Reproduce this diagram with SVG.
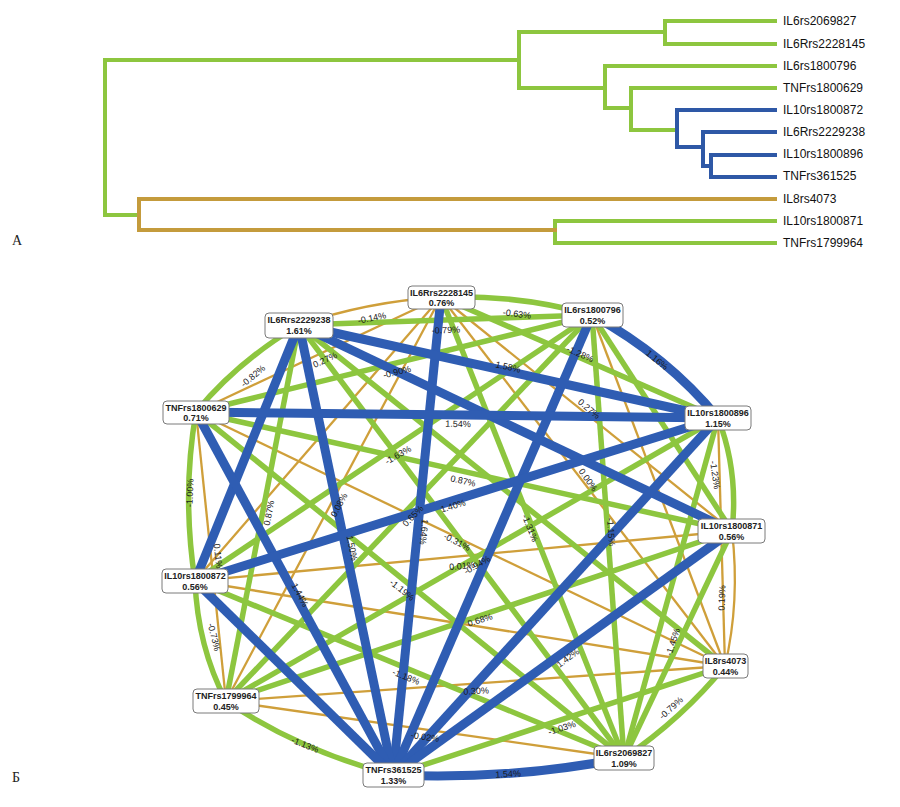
<svg xmlns="http://www.w3.org/2000/svg" width="900" height="807" viewBox="0 0 900 807">
<defs>
<style>
.dg{stroke:#8dc63f;stroke-width:4;fill:none;stroke-linecap:square}
.db{stroke:#2e58a6;stroke-width:4;fill:none;stroke-linecap:square}
.dy{stroke:#c49b3c;stroke-width:4;fill:none;stroke-linecap:square}
.leaf{font-family:"Liberation Sans",Arial,sans-serif;font-size:12px;fill:#111}
.panel{font-family:"Liberation Serif","Times New Roman",serif;font-size:14px;fill:#222}
.o{stroke:#cf9f3a;stroke-width:2.3;fill:none}
.g{stroke:#8dc63f;stroke-width:5.5;fill:none}
.b{stroke:#2f5db3;stroke-width:9;fill:none}
.el{font-family:"Liberation Sans",Arial,sans-serif;font-size:9px;fill:#1a1a1a;text-anchor:middle;dominant-baseline:central}
.box{fill:#fff;stroke:#7a7a7a;stroke-width:1}
.nt{font-family:"Liberation Sans",Arial,sans-serif;font-size:9px;font-weight:bold;fill:#222;text-anchor:middle}
</style>
</defs>
<rect width="900" height="807" fill="#fff"/>

<g id="dendrogram">
<path class="dg" d="M105,60 V215 M105,60 H519 M519,32 V88 M519,32 H665 M665,21 V44 M665,21 H775 M665,44 H775 M519,88 H605 M605,66 V108 M605,66 H775 M605,108 H631 M631,88 V130 M631,88 H775 M631,130 H677 M105,215 H139 M555,221 V243 M555,221 H775 M555,243 H775"/>
<path class="db" d="M677,110 V147 M677,110 H775 M677,147 H703 M703,132 V166 M703,132 H775 M703,166 H711 M711,155 V177 M711,155 H775 M711,177 H775"/>
<path class="dy" d="M139,199 V230 M139,199 H775 M139,230 H555"/>
<text class="leaf" x="783" y="25">IL6rs2069827</text>
<text class="leaf" x="783" y="48">IL6Rrs2228145</text>
<text class="leaf" x="783" y="70">IL6rs1800796</text>
<text class="leaf" x="783" y="92">TNFrs1800629</text>
<text class="leaf" x="783" y="114">IL10rs1800872</text>
<text class="leaf" x="783" y="136">IL6Rrs2229238</text>
<text class="leaf" x="783" y="158">IL10rs1800896</text>
<text class="leaf" x="783" y="180">TNFrs361525</text>
<text class="leaf" x="783" y="203">IL8rs4073</text>
<text class="leaf" x="783" y="225">IL10rs1800871</text>
<text class="leaf" x="783" y="247">TNFrs1799964</text>
<text class="panel" x="12" y="245">А</text>
</g>

<text class="panel" x="12" y="782">Б</text>

<g id="connectors">
<g id="orange-edges">
<line class="o" x1="441" y1="297" x2="196" y2="412"/>
<line class="o" x1="441" y1="297" x2="732" y2="531"/>
<line class="o" x1="441" y1="297" x2="195" y2="581"/>
<line class="o" x1="441" y1="297" x2="725" y2="666"/>
<line class="o" x1="441" y1="297" x2="226" y2="701"/>
<line class="o" x1="592" y1="315" x2="725" y2="666"/>
<line class="o" x1="196" y1="412" x2="725" y2="666"/>
<line class="o" x1="196" y1="412" x2="226" y2="701"/>
<line class="o" x1="718" y1="418" x2="725" y2="666"/>
<line class="o" x1="732" y1="531" x2="195" y2="581"/>
<line class="o" x1="195" y1="581" x2="725" y2="666"/>
<line class="o" x1="725" y1="666" x2="226" y2="701"/>
<line class="o" x1="226" y1="701" x2="624" y2="758"/>
<path class="o" d="M299,325 Q366.4,301.7 441,297"/>
<path class="o" d="M732,531 Q740.2,601.2 725,666"/>
</g>
<g id="green-edges">
<line class="g" x1="441" y1="297" x2="718" y2="418"/>
<line class="g" x1="441" y1="297" x2="624" y2="758"/>
<line class="g" x1="592" y1="315" x2="299" y2="325"/>
<line class="g" x1="592" y1="315" x2="196" y2="412"/>
<line class="g" x1="592" y1="315" x2="732" y2="531"/>
<line class="g" x1="592" y1="315" x2="195" y2="581"/>
<line class="g" x1="592" y1="315" x2="226" y2="701"/>
<line class="g" x1="592" y1="315" x2="624" y2="758"/>
<line class="g" x1="299" y1="325" x2="725" y2="666"/>
<line class="g" x1="299" y1="325" x2="226" y2="701"/>
<line class="g" x1="299" y1="325" x2="624" y2="758"/>
<line class="g" x1="196" y1="412" x2="732" y2="531"/>
<line class="g" x1="196" y1="412" x2="624" y2="758"/>
<line class="g" x1="718" y1="418" x2="226" y2="701"/>
<line class="g" x1="718" y1="418" x2="624" y2="758"/>
<line class="g" x1="732" y1="531" x2="226" y2="701"/>
<line class="g" x1="732" y1="531" x2="624" y2="758"/>
<line class="g" x1="195" y1="581" x2="624" y2="758"/>
<line class="g" x1="725" y1="666" x2="393" y2="775"/>
<path class="g" d="M441,297 Q519.5,294.4 592,315"/>
<path class="g" d="M196,412 Q238.1,361 299,325"/>
<path class="g" d="M196,412 Q181.7,494.5 195,581"/>
<path class="g" d="M718,418 Q738.7,471.4 732,531"/>
<path class="g" d="M195,581 Q197.6,646.5 226,701"/>
<path class="g" d="M725,666 Q682.3,718.3 624,758"/>
<path class="g" d="M226,701 Q300.1,751 393,775"/>
</g>
<g id="blue-edges">
<line class="b" x1="441" y1="297" x2="393" y2="775"/>
<line class="b" x1="592" y1="315" x2="393" y2="775"/>
<line class="b" x1="299" y1="325" x2="718" y2="418"/>
<line class="b" x1="299" y1="325" x2="732" y2="531"/>
<line class="b" x1="299" y1="325" x2="195" y2="581"/>
<line class="b" x1="299" y1="325" x2="393" y2="775"/>
<line class="b" x1="196" y1="412" x2="718" y2="418"/>
<line class="b" x1="196" y1="412" x2="393" y2="775"/>
<line class="b" x1="718" y1="418" x2="195" y2="581"/>
<line class="b" x1="718" y1="418" x2="393" y2="775"/>
<line class="b" x1="732" y1="531" x2="393" y2="775"/>
<line class="b" x1="195" y1="581" x2="393" y2="775"/>
<path class="b" d="M592,315 Q667.2,356.2 718,418"/>
<path class="b" d="M393,775 Q511.6,780.2 624,758"/>
</g>
<g id="edge-labels">
<text class="el" transform="translate(372,318) rotate(-11.5)">-0.14%</text>
<text class="el" transform="translate(517,314) rotate(7)">-0.63%</text>
<text class="el" transform="translate(446,330) rotate(-2)">-0.79%</text>
<text class="el" transform="translate(253,376) rotate(-40)">-0.82%</text>
<text class="el" transform="translate(325,360) rotate(-25)">0.27%</text>
<text class="el" transform="translate(397,372) rotate(-14)">-0.90%</text>
<text class="el" transform="translate(508,367) rotate(12.5)">1.58%</text>
<text class="el" transform="translate(458,424) rotate(1)">1.54%</text>
<text class="el" transform="translate(398,455) rotate(-30)">-1.63%</text>
<text class="el" transform="translate(657,360) rotate(40)">1.16%</text>
<text class="el" transform="translate(580,354) rotate(24)">-1.28%</text>
<text class="el" transform="translate(589,409) rotate(40)">0.27%</text>
<text class="el" transform="translate(588,480) rotate(55)">0.00%</text>
<text class="el" transform="translate(715,475) rotate(82)">-1.23%</text>
<text class="el" transform="translate(722,598) rotate(-88)">0.19%</text>
<text class="el" transform="translate(673,642) rotate(-72)">-1.45%</text>
<text class="el" transform="translate(568,658) rotate(-36)">1.42%</text>
<text class="el" transform="translate(562,728) rotate(-18)">-1.03%</text>
<text class="el" transform="translate(671,708) rotate(-42)">-0.79%</text>
<text class="el" transform="translate(508,774) rotate(-3)">1.54%</text>
<text class="el" transform="translate(476,691) rotate(-3)">0.30%</text>
<text class="el" transform="translate(425,737) rotate(8)">-0.02%</text>
<text class="el" transform="translate(305,745) rotate(22)">-1.13%</text>
<text class="el" transform="translate(406,677) rotate(22)">-1.18%</text>
<text class="el" transform="translate(214,637) rotate(76)">-0.73%</text>
<text class="el" transform="translate(190,493) rotate(-88)">-1.00%</text>
<text class="el" transform="translate(218,556) rotate(84)">0.11%</text>
<text class="el" transform="translate(269,513) rotate(-79)">0.87%</text>
<text class="el" transform="translate(339,505) rotate(-62)">0.08%</text>
<text class="el" transform="translate(352,548) rotate(78)">1.50%</text>
<text class="el" transform="translate(424,532) rotate(95)">1.64%</text>
<text class="el" transform="translate(300,595) rotate(62)">1.44%</text>
<text class="el" transform="translate(453,506) rotate(-17)">1.40%</text>
<text class="el" transform="translate(413,516) rotate(-46)">0.65%</text>
<text class="el" transform="translate(463,481) rotate(12)">0.87%</text>
<text class="el" transform="translate(457,542) rotate(27)">-0.31%</text>
<text class="el" transform="translate(462,566) rotate(-5)">0.01%</text>
<text class="el" transform="translate(477,565) rotate(-30)">-0.94%</text>
<text class="el" transform="translate(402,590) rotate(38)">-1.19%</text>
<text class="el" transform="translate(480,620) rotate(-18)">0.68%</text>
<text class="el" transform="translate(530,528) rotate(68)">-1.31%</text>
<text class="el" transform="translate(611,532) rotate(86)">-1.15%</text>
</g>
</g>

<g id="node-IL6Rrs2228145"><rect class="box" x="408" y="286" width="67" height="23" rx="4"/><text class="nt" x="441.5" y="296">IL6Rrs2228145</text><text class="nt" x="441.5" y="306">0.76%</text></g>
<g id="node-IL6rs1800796"><rect class="box" x="562" y="303" width="61" height="24" rx="4"/><text class="nt" x="592.5" y="313">IL6rs1800796</text><text class="nt" x="592.5" y="324">0.52%</text></g>
<g id="node-IL6Rrs2229238"><rect class="box" x="265" y="313" width="68" height="25" rx="4"/><text class="nt" x="299" y="323">IL6Rrs2229238</text><text class="nt" x="299" y="334">1.61%</text></g>
<g id="node-TNFrs1800629"><rect class="box" x="163" y="401" width="66" height="23" rx="4"/><text class="nt" x="196" y="411">TNFrs1800629</text><text class="nt" x="196" y="421">0.71%</text></g>
<g id="node-IL10rs1800896"><rect class="box" x="685" y="406" width="66" height="24" rx="4"/><text class="nt" x="718" y="416">IL10rs1800896</text><text class="nt" x="718" y="427">1.15%</text></g>
<g id="node-IL10rs1800871"><rect class="box" x="698" y="519" width="67" height="24" rx="4"/><text class="nt" x="731.5" y="529">IL10rs1800871</text><text class="nt" x="731.5" y="540">0.56%</text></g>
<g id="node-IL10rs1800872"><rect class="box" x="162" y="569" width="66" height="24" rx="4"/><text class="nt" x="195" y="579">IL10rs1800872</text><text class="nt" x="195" y="590">0.56%</text></g>
<g id="node-IL8rs4073"><rect class="box" x="703" y="654" width="45" height="24" rx="4"/><text class="nt" x="725.5" y="664">IL8rs4073</text><text class="nt" x="725.5" y="675">0.44%</text></g>
<g id="node-TNFrs1799964"><rect class="box" x="193" y="689" width="66" height="24" rx="4"/><text class="nt" x="226" y="699">TNFrs1799964</text><text class="nt" x="226" y="710">0.45%</text></g>
<g id="node-IL6rs2069827"><rect class="box" x="594" y="746" width="60" height="24" rx="4"/><text class="nt" x="624" y="756">IL6rs2069827</text><text class="nt" x="624" y="767">1.09%</text></g>
<g id="node-TNFrs361525"><rect class="box" x="363" y="763" width="61" height="24" rx="4"/><text class="nt" x="393.5" y="773">TNFrs361525</text><text class="nt" x="393.5" y="784">1.33%</text></g>
</svg>
